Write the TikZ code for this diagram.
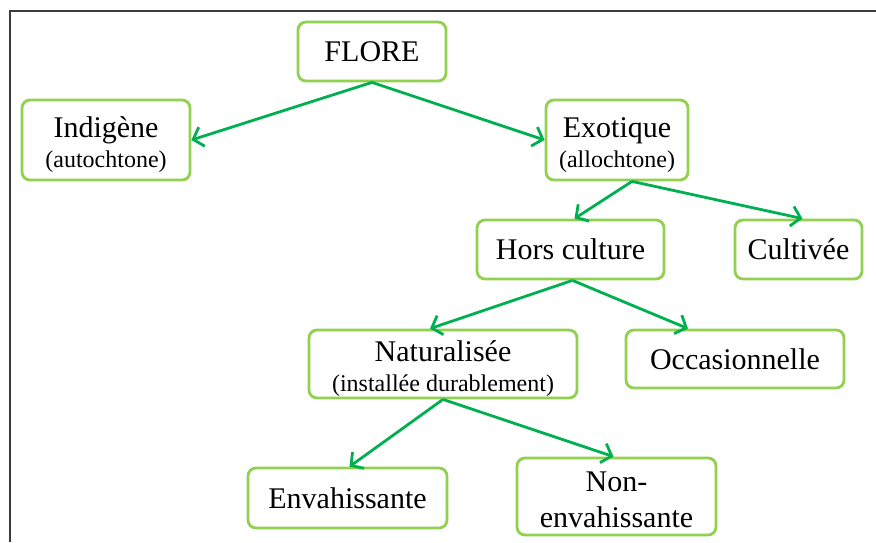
\documentclass[tikz,border=0pt]{standalone}
\usepackage{fontspec}
\setmainfont{Liberation Serif}
\usetikzlibrary{arrows.meta,calc}
\definecolor{boxgreen}{RGB}{146,208,80}
\definecolor{arrowgreen}{RGB}{0,176,80}
\definecolor{framegray}{RGB}{60,60,60}
\tikzset{
  box/.style={draw=boxgreen, line width=2.8pt, rounded corners=8pt, fill=white,
    align=center, inner sep=0pt, font=\fontsize{30}{36}\selectfont},
  label text/.style={align=center, inner sep=0pt, font=\fontsize{30}{36}\selectfont},
  link/.style={draw=arrowgreen, line width=2.8pt,
    -{Straight Barb[length=9pt,width=20pt,line width=2.8pt]}},
}
\newcommand{\subtxt}[1]{{\fontsize{24}{28}\selectfont #1}}
\begin{document}
\begin{tikzpicture}[x=1pt,y=-1pt]
\useasboundingbox (0,0) rectangle (876,542);
% frame lines (top and left)
\draw[framegray, line width=2pt] (9.5,542) -- (9.5,10.5) -- (876,10.5);

% single-line boxes
\node[box, minimum width=148pt, minimum height=59pt] (flore) at (372,51.5) {FLORE};
\node[box, minimum width=187pt, minimum height=59pt] (hors) at (570.5,249.5) {Hors culture};
\node[box, minimum width=127pt, minimum height=59pt] (cult) at (798.5,249.5) {Cultivée};
\node[box, minimum width=218pt, minimum height=58pt] (occ) at (735,359) {Occasionnelle};
\node[box, minimum width=199pt, minimum height=60pt] (env) at (347.5,498) {Envahissante};

% two-line boxes: frame first, text set slightly lower inside
\node[box, minimum width=168pt, minimum height=80pt] (ind) at (106,140) {};
\node[label text] (ind-t) at ($(ind)+(0,5)$) {Indigène\\[-6pt]\subtxt{(autochtone)}};
\node[box, minimum width=142pt, minimum height=80pt] (exo) at (617,140) {};
\node[label text] (exo-t) at ($(exo)+(0,5)$) {Exotique\\[-6pt]\subtxt{(allochtone)}};
\node[box, minimum width=268pt, minimum height=68pt] (nat) at (443,364) {};
\node[label text] (nat-t) at ($(nat)+(0,5)$) {Naturalisée\\[-6pt]\subtxt{(installée durablement)}};
\node[box, minimum width=199pt, minimum height=77pt] (nonenv) at (616.5,496.5) {};
\node[label text] (nonenv-t) at ($(nonenv)+(0,3)$) {Non-\\[0pt]envahissante};

% connectors
\draw[link] (flore.south) -- (ind.east);
\draw[link] (flore.south) -- (exo.west);
\draw[link] ($(exo.south)+(15,0)$) -- ($(hors.north)+(4,0)$);
\draw[link] ($(exo.south)+(15,0)$) -- ($(cult.north)+(4,0)$);
\draw[link] ($(hors.south)+(2,0)$) -- ($(nat.north)+(-13,0)$);
\draw[link] ($(hors.south)+(2,0)$) -- ($(occ.north)+(-47,0)$);
\draw[link] (nat.south) -- ($(env.north)+(2,0)$);
\draw[link] (nat.south) -- ($(nonenv.north)+(-3,0)$);
\end{tikzpicture}
\end{document}
